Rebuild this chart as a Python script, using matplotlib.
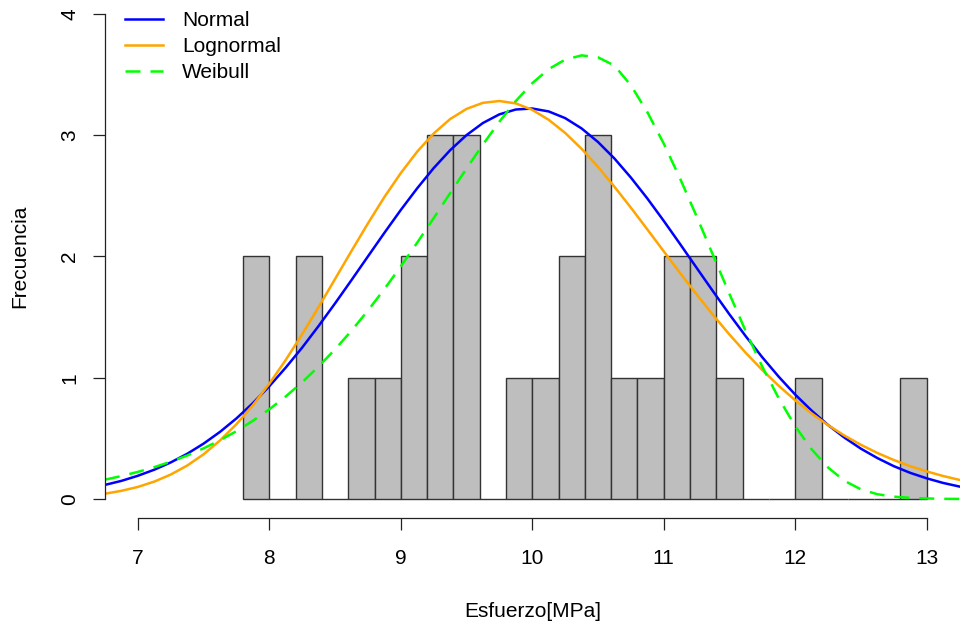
import matplotlib
matplotlib.use("Agg")
import matplotlib.pyplot as plt

plt.rcParams['font.family'] = ['Liberation Sans', 'DejaVu Sans']

# histogram: left bin edges (width 0.2) and counts
bin_left = [7.8, 8.0, 8.2, 8.4, 8.6, 8.8, 9.0, 9.2, 9.4, 9.6, 9.8, 10.0, 10.2,
            10.4, 10.6, 10.8, 11.0, 11.2, 11.4, 11.6, 11.8, 12.0, 12.2, 12.4, 12.6, 12.8]
counts = [2, 0, 2, 0, 1, 1, 2, 3, 3, 0, 1, 1, 2,
          3, 1, 1, 2, 2, 1, 0, 0, 1, 0, 0, 0, 1]
bin_width = 0.2

# fitted curves, every 0.125
x_curve = [6.75, 6.875, 7.0, 7.125, 7.25, 7.375, 7.5, 7.625, 7.75, 7.875,
           8.0, 8.125, 8.25, 8.375, 8.5, 8.625, 8.75, 8.875, 9.0, 9.125,
           9.25, 9.375, 9.5, 9.625, 9.75, 9.875, 10.0, 10.125, 10.25, 10.375,
           10.5, 10.625, 10.75, 10.875, 11.0, 11.125, 11.25, 11.375, 11.5, 11.625,
           11.75, 11.875, 12.0, 12.125, 12.25, 12.375, 12.5, 12.625, 12.75, 12.875,
           13.0, 13.125, 13.25]
normal_y = [0.117, 0.150, 0.192, 0.242, 0.302, 0.373, 0.457, 0.554, 0.665, 0.791,
            0.930, 1.084, 1.249, 1.427, 1.613, 1.805, 2.000, 2.194, 2.383, 2.562,
            2.728, 2.875, 3.000, 3.100, 3.171, 3.211, 3.219, 3.195, 3.140, 3.055,
            2.943, 2.807, 2.650, 2.478, 2.293, 2.101, 1.906, 1.712, 1.522, 1.340,
            1.168, 1.008, 0.861, 0.729, 0.610, 0.506, 0.415, 0.338, 0.271, 0.216,
            0.171, 0.133, 0.103]
lognormal_y = [0.044, 0.068, 0.100, 0.144, 0.202, 0.276, 0.369, 0.483, 0.617, 0.774,
               0.951, 1.147, 1.359, 1.583, 1.814, 2.045, 2.272, 2.489, 2.687, 2.864,
               3.013, 3.132, 3.216, 3.266, 3.281, 3.261, 3.208, 3.126, 3.018, 2.887,
               2.738, 2.574, 2.402, 2.223, 2.042, 1.862, 1.687, 1.517, 1.356, 1.204,
               1.063, 0.933, 0.814, 0.706, 0.609, 0.523, 0.447, 0.380, 0.322, 0.271,
               0.228, 0.190, 0.158]
weibull_y = [0.160, 0.190, 0.224, 0.263, 0.308, 0.359, 0.418, 0.485, 0.560, 0.645,
             0.740, 0.846, 0.963, 1.093, 1.234, 1.388, 1.554, 1.731, 1.918, 2.114,
             2.315, 2.521, 2.724, 2.923, 3.111, 3.281, 3.428, 3.544, 3.622, 3.657,
             3.641, 3.573, 3.410, 3.190, 2.930, 2.640, 2.330, 2.010, 1.690, 1.380,
             1.090, 0.830, 0.600, 0.410, 0.260, 0.150, 0.080, 0.040, 0.020, 0.010,
             0.005, 0.002, 0.001]

x_ticks = [7, 8, 9, 10, 11, 12, 13]
y_ticks = [0, 1, 2, 3, 4]

fig = plt.figure(figsize=(9.64, 6.34), dpi=100)
ax = fig.add_axes([0.1089, 0.1822, 0.8865, 0.8267])

ax.bar(bin_left, counts, width=bin_width, align='edge', color='#BEBEBE',
       edgecolor='#333333', linewidth=1.0)

ax.plot(x_curve, normal_y, color='#0000FF', lw=1.8, label='Normal')
ax.plot(x_curve, lognormal_y, color='#FFA500', lw=1.8, label='Lognormal')
ax.plot(x_curve, weibull_y, color='#00FF00', lw=1.8, dashes=(6, 4), label='Weibull')

ax.set_xlim(6.75, 13.25)
ax.set_ylim(-0.16, 4.16)

for s in ['top', 'right']:
    ax.spines[s].set_visible(False)
ax.spines['left'].set_bounds(0, 4)
ax.spines['bottom'].set_bounds(7, 13)
for s in ['left', 'bottom']:
    ax.spines[s].set_linewidth(0.9)
    ax.spines[s].set_color('#222222')

ax.set_xticks(x_ticks)
ax.set_xticklabels([str(v) for v in x_ticks])
ax.set_yticks(y_ticks)
ax.set_yticklabels([str(v) for v in y_ticks], rotation=90, va='center')
ax.tick_params(axis='both', direction='out', length=8.6, width=0.9,
               color='#222222', labelsize=15)
ax.tick_params(axis='x', pad=13.5)
ax.tick_params(axis='y', pad=10)

ax.set_xlabel('Esfuerzo[MPa]', fontsize=15, labelpad=24.5)
ax.set_ylabel('Frecuencia', fontsize=15, labelpad=22)

ax.legend(loc='upper left', bbox_to_anchor=(125 / 964, 1 - 11.5 / 634),
          bbox_transform=fig.transFigure, frameon=False, borderpad=0,
          borderaxespad=0, handlelength=1.83, handletextpad=0.91,
          labelspacing=0.32, fontsize=15)

fig.savefig('out.png', dpi=100)
